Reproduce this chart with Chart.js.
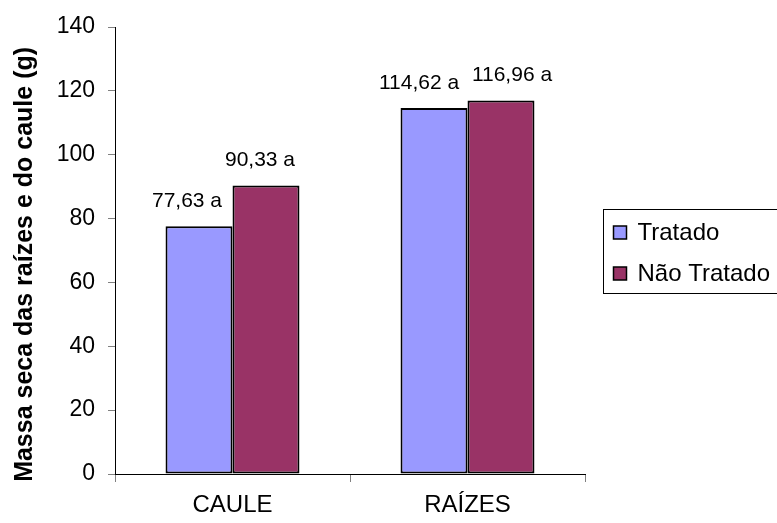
<!DOCTYPE html>
<html lang="pt">

<head>
    <meta charset="UTF-8">
    <title>Massa seca</title>
    <script src="https://cdn.jsdelivr.net/npm/chart.js@4/dist/chart.umd.min.js"></script>
    <style>
        body { margin: 0; background: #fff; }
    </style>
</head>

<body>
    <canvas id="myChart" width="777" height="523"></canvas>
    <script>
        var categorias = ['CAULE', 'RAÍZES'];
        var series = ['Tratado', 'Não Tratado'];
        var tratado = [77.63, 114.62];
        var naoTratado = [90.33, 116.96];
        var letrasTratado = ['a', 'a'];
        var letrasNaoTratado = ['a', 'a'];
        var yTicks = [0, 20, 40, 60, 80, 100, 120, 140];

        var fonte = "'Liberation Sans', Arial, sans-serif";
        var cores = ['#9999FF', '#993366'];

        // rotulos acima das barras (valor com virgula + letra)
        var rotulos = {
            id: 'rotulos',
            afterDatasetsDraw(chart, args, opts) {
                var ctx = chart.ctx;
                ctx.save();
                ctx.font = '21px ' + fonte;
                ctx.fillStyle = '#000';
                ctx.textAlign = 'center';
                ctx.textBaseline = 'middle';
                chart.data.datasets.forEach(function (ds, d) {
                    var meta = chart.getDatasetMeta(d);
                    meta.data.forEach(function (bar, i) {
                        var txt = ds.data[i].toFixed(2).replace('.', ',') + ' ' + ds.letras[i];
                        ctx.fillText(txt, bar.x + opts.dx[i][d], bar.y - opts.acima);
                    });
                });
                ctx.restore();
            }
        };

        // legenda com moldura, a direita da area do grafico
        var legenda = {
            id: 'legenda',
            afterDraw(chart, args, opts) {
                var ctx = chart.ctx;
                var a = chart.chartArea;
                var x0 = a.right + 18.5;
                var y0 = 209.5;
                ctx.save();
                ctx.strokeStyle = '#000';
                ctx.lineWidth = 1;
                ctx.strokeRect(x0, y0, 200, 84);
                ctx.font = '24px ' + fonte;
                ctx.textBaseline = 'middle';
                ctx.textAlign = 'left';
                chart.data.datasets.forEach(function (ds, d) {
                    var cy = y0 + 23 + d * 41;
                    ctx.fillStyle = ds.backgroundColor;
                    ctx.fillRect(x0 + 10, cy - 6.5, 13, 13);
                    ctx.lineWidth = 1.5;
                    ctx.strokeRect(x0 + 10, cy - 6.5, 13, 13);
                    ctx.fillStyle = '#000';
                    ctx.fillText(ds.label, x0 + 34, cy + 1);
                });
                ctx.restore();
            }
        };

        var ctx = document.getElementById('myChart');
        var myChart = new Chart(ctx, {
            type: 'bar',
            data: {
                labels: categorias,
                datasets: [{
                        label: series[0],
                        data: tratado,
                        letras: letrasTratado,
                        backgroundColor: cores[0],
                        borderColor: '#000',
                        borderWidth: 2,
                        borderSkipped: false
                    },
                    {
                        label: series[1],
                        data: naoTratado,
                        letras: letrasNaoTratado,
                        backgroundColor: cores[1],
                        borderColor: '#000',
                        borderWidth: 2,
                        borderSkipped: false
                    }
                ]
            },
            options: {
                responsive: false,
                animation: false,
                devicePixelRatio: 1,
                categoryPercentage: 0.57,
                barPercentage: 1,
                layout: { padding: { left: 0, top: 27, right: 192, bottom: 0 } },
                plugins: {
                    legend: { display: false },
                    tooltip: { enabled: false },
                    rotulos: { acima: 25, dx: [[-12, -6], [-15, 11]] }
                },
                scales: {
                    x: {
                        afterFit: function (s) { s.height = 49; },
                        grid: { offset: true, drawOnChartArea: false, tickLength: 8, color: '#808080' },
                        border: { color: '#000' },
                        ticks: { color: '#000', padding: 9, font: { family: fonte, size: 24 } }
                    },
                    y: {
                        min: 0,
                        max: 140,
                        afterFit: function (s) { s.width = 115; },
                        afterBuildTicks: function (s) { s.ticks = yTicks.map(function (v) { return { value: v }; }); },
                        grid: { drawOnChartArea: false, tickLength: 7, color: '#808080' },
                        border: { color: '#000' },
                        ticks: { color: '#000', padding: 13, font: { family: fonte, size: 23 } },
                        title: {
                            display: true,
                            text: 'Massa seca das raízes e do caule (g)    ',
                            color: '#000',
                            padding: { top: 10, bottom: 0 },
                            font: { family: fonte, size: 25, weight: 'bold' }
                        }
                    }
                }
            },
            plugins: [rotulos, legenda]
        });
    </script>
</body>

</html>
